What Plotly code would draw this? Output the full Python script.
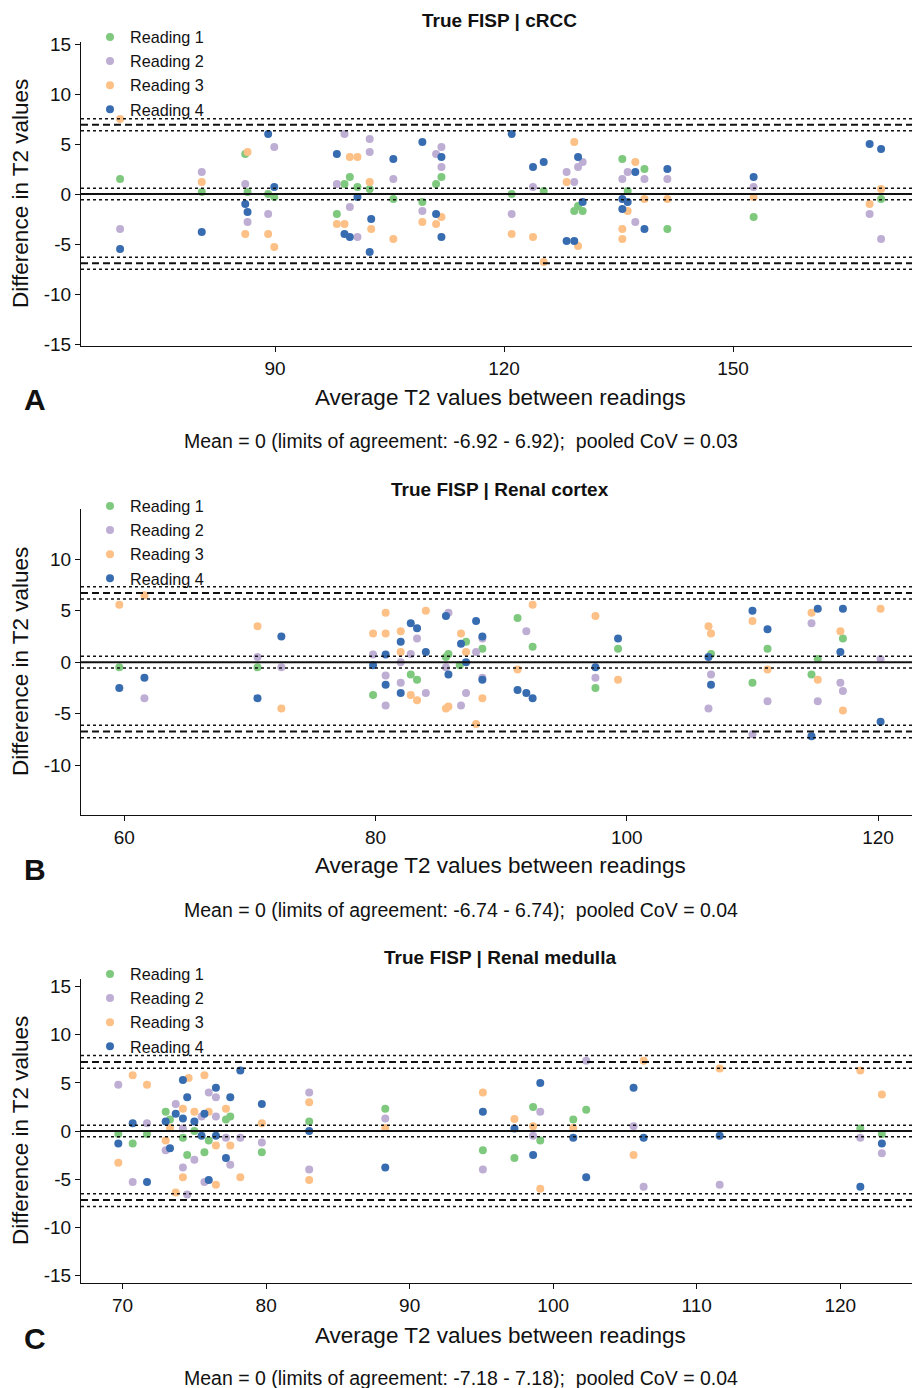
import plotly.graph_objects as go

W, H = 912, 1388
COLORS = ["#7FC97F", "#BEAED4", "#FDC086", "#386CB0"]
READINGS = ["Reading 1", "Reading 2", "Reading 3", "Reading 4"]
FONT = "Liberation Sans, Arial, Helvetica, sans-serif"

# ---------------- Panel A: True FISP | cRCC ----------------
a_r1_x = [69.7, 80.4, 86.1, 86.4, 89.1, 89.9, 99.1, 99.8, 100.8, 98.1, 102.4, 105.5, 109.3, 111.1, 111.8,
          121.0, 125.2, 129.2, 129.7, 130.3, 135.5, 136.2, 138.4, 141.4, 152.7, 169.4]
a_r1_y = [1.5, 0.2, 4.0, 0.2, 0.0, -0.3, 1.0, 1.7, 0.7, -2.0, 0.5, -0.5, -0.8, 1.0, 1.7,
          0.0, 0.3, -1.7, -1.2, -1.7, 3.5, 0.3, 2.5, -3.5, -2.3, -0.5]
a_r2_x = [69.7, 80.4, 86.1, 86.4, 89.1, 89.9, 98.1, 99.1, 99.8, 100.8, 102.4, 102.4, 105.5, 109.3, 111.1, 111.8,
          111.8, 121.0, 123.8, 128.2, 129.2, 130.3, 129.7, 135.5, 136.2, 137.2, 138.4, 141.4, 152.7, 167.9, 169.4]
a_r2_y = [-3.5, 2.2, 1.0, -2.8, -2.0, 4.7, 1.0, 6.0, -1.3, -4.3, 5.5, 4.2, 1.5, -1.7, 4.0, 4.7,
          2.7, -2.0, 0.7, 2.2, 1.2, 3.2, 2.7, 1.5, 2.2, -2.8, 1.5, 1.5, 0.7, -2.0, -4.5]
a_r3_x = [69.7, 80.4, 86.4, 86.1, 89.1, 89.9, 98.1, 99.1, 99.8, 100.8, 102.4, 102.6, 105.5, 109.3, 111.8, 111.1,
          121.0, 123.8, 125.2, 129.2, 128.2, 129.7, 135.5, 135.5, 136.2, 137.2, 138.4, 141.4, 152.7, 167.9, 169.4]
a_r3_y = [7.5, 1.2, 4.2, -4.0, -4.0, -5.3, -3.0, -3.0, 3.7, 3.7, 1.2, -3.5, -4.5, -2.8, -2.3, -3.0,
          -4.0, -4.3, -6.8, 5.2, 1.2, -5.2, -3.5, -4.5, -1.7, 3.2, -0.5, -0.5, -0.3, -1.0, 0.5]
a_r4_x = [69.7, 80.4, 86.1, 86.4, 89.1, 89.9, 98.1, 99.1, 99.8, 100.8, 102.4, 102.6, 105.5, 109.3, 111.1, 111.8,
          111.8, 121.0, 123.8, 125.2, 129.7, 130.3, 128.2, 129.2, 135.5, 136.2, 135.5, 137.2, 138.4, 141.4,
          152.7, 167.9, 169.4]
a_r4_y = [-5.5, -3.8, -1.0, -1.8, 6.0, 0.7, 4.0, -4.0, -4.3, -0.3, -5.8, -2.5, 3.5, 5.2, -2.0, 3.7,
          -4.3, 6.0, 2.7, 3.2, 3.7, -0.8, -4.7, -4.7, -0.5, -0.8, -1.5, 2.2, -3.5, 2.5,
          1.7, 5.0, 4.5]

# ---------------- Panel B: True FISP | Renal cortex ----------------
b_r1_x = [59.6, 70.6, 79.8, 82.8, 83.3, 85.6, 85.8, 86.7, 87.2, 88.5, 91.3, 92.5, 97.5, 99.3, 106.7,
          110.0, 111.2, 115.2, 114.7, 117.2]
b_r1_y = [-0.5, -0.5, -3.2, -1.2, -1.7, 0.5, 0.8, -0.3, 2.0, 1.3, 4.3, 1.5, -2.5, 1.3, 0.8,
          -2.0, 1.3, 0.3, -1.2, 2.3]
b_r2_x = [61.6, 70.6, 72.5, 79.8, 80.8, 80.8, 82.0, 82.0, 82.8, 83.3, 84.0, 85.8, 85.6, 86.8, 87.2,
          88.5, 88.0, 88.5, 92.0, 97.5, 106.7, 106.5, 110.0, 111.2, 114.7, 115.2, 117.0, 117.2, 120.2]
b_r2_y = [-3.5, 0.5, -0.5, 0.75, -1.3, -4.2, 0.0, -2.0, 0.8, 2.3, -3.0, 4.8, -0.5, -4.2, -3.0,
          2.3, 1.0, -1.5, 3.0, -1.5, -1.2, -4.5, -7.0, -3.8, 3.8, -3.8, -2.0, -2.8, 0.3]
b_r3_x = [59.6, 61.6, 70.6, 72.5, 79.8, 80.8, 80.8, 82.0, 82.0, 82.8, 83.3, 84.0, 85.6, 85.8, 86.8,
          87.2, 88.0, 88.5, 92.5, 91.3, 97.5, 99.3, 106.5, 106.7, 110.0, 111.2, 114.7, 115.2, 117.0,
          117.2, 120.2]
b_r3_y = [5.6, 6.5, 3.5, -4.5, 2.8, 4.8, 2.8, 3.0, 1.0, -3.2, -3.7, 5.0, -4.5, -4.3, 2.8,
          1.0, -6.0, -3.5, 5.6, -0.7, 4.5, -1.7, 3.5, 2.8, 4.0, -0.7, 4.8, -1.7, 3.0,
          -4.7, 5.2]
b_r4_x = [59.6, 61.6, 70.6, 72.5, 79.8, 80.8, 80.8, 82.0, 82.0, 82.8, 83.3, 84.0, 85.6, 85.8, 86.8,
          87.2, 88.0, 88.5, 88.5, 91.3, 92.0, 92.5, 97.5, 99.3, 106.5, 106.7, 110.0, 111.2, 115.2,
          114.7, 117.2, 117.0, 120.2]
b_r4_y = [-2.5, -1.5, -3.5, 2.5, -0.3, 0.75, -2.2, 2.0, -3.0, 3.8, 3.3, 1.0, 4.5, -1.2, 1.8,
          0.0, 4.0, 2.5, -1.7, -2.7, -3.0, -3.5, -0.5, 2.3, 0.5, -2.2, 5.0, 3.2, 5.2,
          -7.2, 5.2, 1.0, -5.8]

# ---------------- Panel C: True FISP | Renal medulla ----------------
c_r1_x = [69.7, 70.7, 71.7, 73.0, 73.3, 74.2, 74.5, 75.0, 76.0, 75.7, 77.2, 77.5, 79.7, 83.0, 88.3,
          95.1, 97.3, 98.6, 99.1, 101.4, 102.3, 121.4, 122.9]
c_r1_y = [-0.3, -1.3, -0.3, 2.0, 1.2, -0.7, -2.5, 0.0, -1.0, -2.2, 1.2, 1.5, -2.2, 1.0, 2.3,
          -2.0, -2.8, 2.5, -1.0, 1.2, 2.2, 0.25, -0.3]
c_r2_x = [69.7, 70.7, 71.7, 73.0, 73.7, 74.2, 74.2, 74.5, 75.0, 75.5, 75.7, 76.0, 76.5, 76.5, 77.2,
          77.5, 78.2, 79.7, 83.0, 83.0, 88.3, 95.1, 98.6, 99.1, 102.3, 105.6, 106.3, 111.6, 121.4, 122.9]
c_r2_y = [4.8, -5.3, 0.8, -2.0, 2.8, 0.25, -3.8, -6.6, -3.0, 1.5, -5.3, 4.0, 3.5, 1.5, -0.7,
          -3.5, -0.7, -1.2, 4.0, -4.0, 1.3, -4.0, -0.5, 2.0, 7.3, 0.5, -5.8, -5.6, -0.7, -2.3]
c_r3_x = [69.7, 70.7, 71.7, 73.3, 73.0, 73.7, 74.6, 74.2, 74.2, 75.0, 75.7, 76.0, 76.5, 76.5, 77.2,
          77.5, 78.2, 79.7, 83.0, 83.0, 88.3, 95.1, 97.3, 98.6, 99.1, 101.4, 105.6, 106.3, 111.6,
          121.4, 122.9]
c_r3_y = [-3.3, 5.8, 4.8, 0.3, -1.0, -6.4, 5.5, 2.3, -4.8, 2.0, 5.8, 2.0, -1.5, -5.6, 2.3,
          -1.5, -4.8, 0.8, 3.0, -5.1, 0.3, 4.0, 1.25, 0.5, -6.0, 0.3, -2.5, 7.3, 6.5,
          6.3, 3.8]
c_r4_x = [69.7, 70.7, 71.7, 73.0, 73.3, 73.7, 74.2, 74.5, 74.2, 75.0, 75.7, 75.5, 76.0, 76.5, 76.5,
          77.2, 77.5, 78.2, 79.7, 83.0, 88.3, 95.1, 97.3, 98.6, 99.1, 101.4, 102.3, 105.6, 106.3,
          111.6, 121.4, 122.9]
c_r4_y = [-1.3, 0.8, -5.3, 1.0, -1.8, 1.8, 5.3, 3.5, 1.3, 1.0, 1.8, -0.5, -5.1, 4.5, -0.5,
          -2.8, 3.5, 6.3, 2.8, 0.0, -3.8, 2.0, 0.25, -2.5, 5.0, -0.7, -4.8, 4.5, -0.7,
          -0.5, -5.8, -1.3]

# Panel statistics
panel_titles = ["True FISP | cRCC", "True FISP | Renal cortex", "True FISP | Renal medulla"]
panel_letters = ["A", "B", "C"]
mean_diff = [0, 0, 0]
mean_ci = [0.57, 0.57, 0.6]
loa = [6.92, 6.74, 7.18]
loa_ci = [0.6, 0.6, 0.66]
cov = ["0.03", "0.04", "0.04"]
x_ticks = [[90, 120, 150], [60, 80, 100, 120], [70, 80, 90, 100, 110, 120]]
y_ticks = [[-15, -10, -5, 0, 5, 10, 15], [-10, -5, 0, 5, 10], [-15, -10, -5, 0, 5, 10, 15]]
x_ranges = [[64.58, 173.45], [56.55, 122.7], [67.1, 125.0]]
y_ranges = [[-15.2, 15.2], [-14.86, 14.9], [-15.8, 15.8]]

data = [
    [(a_r1_x, a_r1_y), (a_r2_x, a_r2_y), (a_r3_x, a_r3_y), (a_r4_x, a_r4_y)],
    [(b_r1_x, b_r1_y), (b_r2_x, b_r2_y), (b_r3_x, b_r3_y), (b_r4_x, b_r4_y)],
    [(c_r1_x, c_r1_y), (c_r2_x, c_r2_y), (c_r3_x, c_r3_y), (c_r4_x, c_r4_y)],
]

# Layout geometry (pixels from top)
panel_px = [(42, 346), (509, 815), (979, 1283)]
plot_left = 81
title_y = [20, 489, 957]
xtitle_y = [397, 866, 1335]
mean_y = [441, 910, 1378]
legend_top = [20, 489, 957]


def fy(p):
    return 1 - p / H


def fx(p):
    return p / W


def tick_text(vals):
    return [str(v) for v in vals]


fig = go.Figure()
shapes = []
annotations = []
layout_extra = {}

for i in range(3):
    sfx = "" if i == 0 else str(i + 1)
    xa, ya = "x" + sfx, "y" + sfx
    leg = "legend" + sfx
    for r in range(4):
        xs, ys = data[i][r]
        fig.add_trace(go.Scatter(
            x=xs, y=ys, mode="markers", name=READINGS[r],
            marker=dict(color=COLORS[r], size=8, line=dict(width=0)),
            xaxis=xa, yaxis=ya, legend=leg, showlegend=True,
        ))
    top, bot = panel_px[i]
    axis_common = dict(
        showgrid=False, zeroline=False, showline=True, linecolor="#111", linewidth=1.2,
        ticks="outside", ticklen=5, tickwidth=1.2, tickcolor="#111",
        tickfont=dict(family=FONT, size=19, color="#111"),
    )
    layout_extra["xaxis" + sfx] = dict(
        domain=[fx(plot_left), 1], range=x_ranges[i], tickmode="array",
        tickvals=x_ticks[i], ticktext=tick_text(x_ticks[i]),
        anchor=ya, **axis_common)
    layout_extra["yaxis" + sfx] = dict(
        domain=[fy(bot), fy(top)], range=y_ranges[i], tickmode="array",
        tickvals=y_ticks[i], ticktext=tick_text(y_ticks[i]),
        anchor=xa, **axis_common)
    layout_extra[leg] = dict(
        x=fx(90), y=fy(legend_top[i]), xanchor="left", yanchor="top",
        bgcolor="rgba(0,0,0,0)", font=dict(family=FONT, size=16.2, color="#111"),
        tracegroupgap=0, itemwidth=30,
    )

    # Reference lines: mean, CI of mean, limits of agreement and their CIs
    def hline(v, dash, width):
        shapes.append(dict(type="line", xref=xa + " domain", yref=ya, x0=0, x1=1, y0=v, y1=v,
                           line=dict(color="#111", width=width, dash=dash), layer="above"))

    m = mean_diff[i]
    hline(m, "solid", 2)
    hline(m + mean_ci[i], "dot", 1.5)
    hline(m - mean_ci[i], "dot", 1.5)
    for s in (1, -1):
        hline(m + s * loa[i], "7px,4px", 2)
        hline(m + s * (loa[i] + loa_ci[i]), "dot", 1.5)
        hline(m + s * (loa[i] - loa_ci[i]), "dot", 1.5)

    center_x = (plot_left + W) / 2
    annotations += [
        dict(text="<b>" + panel_titles[i] + "</b>", x=fx(center_x + 3), y=fy(title_y[i]),
             xref="paper", yref="paper", showarrow=False, xanchor="center", yanchor="middle",
             font=dict(family=FONT, size=19, color="#111")),
        dict(text="Average T2 values between readings", x=fx(500), y=fy(xtitle_y[i]),
             xref="paper", yref="paper", showarrow=False, xanchor="center", yanchor="middle",
             font=dict(family=FONT, size=22.5, color="#111")),
        dict(text="Difference in T2 values", x=fx(20), y=fy((top + bot) / 2),
             xref="paper", yref="paper", showarrow=False, xanchor="center", yanchor="middle",
             textangle=-90, font=dict(family=FONT, size=22.5, color="#111")),
        dict(text="<b>" + panel_letters[i] + "</b>", x=fx(35), y=fy(xtitle_y[i] + 3),
             xref="paper", yref="paper", showarrow=False, xanchor="center", yanchor="middle",
             font=dict(family=FONT, size=30, color="#111")),
        dict(text=f"Mean = {mean_diff[i]} (limits of agreement: -{loa[i]:.2f} - {loa[i]:.2f});&nbsp; pooled CoV = {cov[i]}",
             x=fx(461), y=fy(mean_y[i]),
             xref="paper", yref="paper", showarrow=False, xanchor="center", yanchor="middle",
             font=dict(family=FONT, size=19.5, color="#111")),
    ]

fig.update_layout(
    width=W, height=H, autosize=False,
    margin=dict(l=0, r=0, t=0, b=0, autoexpand=False),
    paper_bgcolor="white", plot_bgcolor="white",
    font=dict(family=FONT, color="#111"),
    shapes=shapes, annotations=annotations,
    **layout_extra,
)

fig.write_html(
    "out.html",
    config={"displayModeBar": False},
    post_script="document.body.style.margin='0';document.body.style.padding='0';",
)
